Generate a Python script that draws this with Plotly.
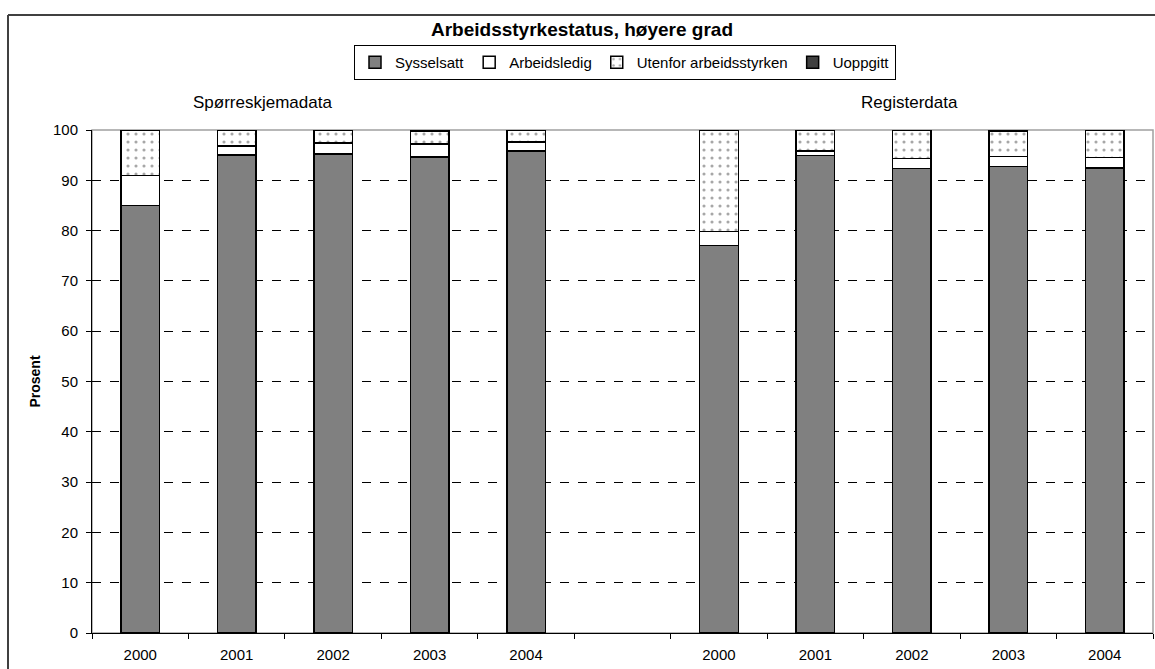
import plotly.graph_objects as go

# ---- data ----
years = ["2000", "2001", "2002", "2003", "2004"]
group_names = ["Spørreskjemadata", "Registerdata"]
series_names = ["Sysselsatt", "Arbeidsledig", "Utenfor arbeidsstyrken", "Uoppgitt"]

sysselsatt_spo = [85.0, 95.0, 95.2, 94.6, 95.8]
arbeidsledig_spo = [6.0, 1.8, 2.2, 2.6, 1.8]
utenfor_spo = [9.0, 3.2, 2.6, 2.5, 2.4]
uoppgitt_spo = [0.0, 0.0, 0.0, 0.3, 0.0]

sysselsatt_reg = [77.0, 94.9, 92.3, 92.7, 92.4]
arbeidsledig_reg = [2.8, 0.9, 2.0, 2.0, 2.1]
utenfor_reg = [20.2, 4.2, 5.7, 5.0, 5.5]
uoppgitt_reg = [0.0, 0.0, 0.0, 0.3, 0.0]

y_ticks = [0, 10, 20, 30, 40, 50, 60, 70, 80, 90, 100]

# ---- layout helpers ----
W, H = 1155, 669
x_left_px, x_right_px = 92, 1153
y_zero_px, y_top_px = 633, 130

# slot positions: 5 bars, one empty slot, 5 bars
x_pos = list(range(len(years))) + [len(years) + 1 + i for i in range(len(years))]
tick_text = years + years
n_slots = len(years) * 2 + 1

series_values = [
    sysselsatt_spo + sysselsatt_reg,
    arbeidsledig_spo + arbeidsledig_reg,
    utenfor_spo + utenfor_reg,
    uoppgitt_spo + uoppgitt_reg,
]

fig = go.Figure()
styles = [
    dict(color="#808080"),
    dict(color="#ffffff"),
    dict(color="#ffffff", pattern=dict(shape=".", fgcolor="#505050", bgcolor="#ffffff",
                                       size=8, solidity=0.12)),
    dict(color="#404040"),
]
for name, vals, st in zip(series_names, series_values, styles):
    marker = dict(line=dict(color="#000000", width=1.5), **st)
    fig.add_trace(go.Bar(x=x_pos, y=vals, name=name, marker=marker, width=0.4))

xdom = [x_left_px / W, x_right_px / W]
ydom = [(H - y_zero_px) / H, (H - y_top_px) / H]

font = "Liberation Sans, Arial, sans-serif"

fig.update_layout(
    width=W, height=H,
    margin=dict(l=0, r=0, t=0, b=0, autoexpand=False),
    paper_bgcolor="white", plot_bgcolor="white",
    barmode="stack",
    font=dict(family=font, size=15, color="#000000"),
    title=dict(text="<b>Arbeidsstyrkestatus, høyere grad</b>", x=582 / W, xanchor="center",
               y=1 - 29 / H, yanchor="middle", font=dict(size=19, family=font)),
    legend=dict(orientation="h", x=625 / W, xanchor="center", y=1 - 45 / H, yanchor="top",
                bordercolor="#000000", borderwidth=1, font=dict(size=15),
                itemwidth=30, tracegroupgap=0, traceorder="normal"),
    xaxis=dict(domain=xdom, range=[-0.5, n_slots - 0.5], tickmode="array",
               tickvals=x_pos, ticktext=tick_text, ticks="", showgrid=False,
               zeroline=False, showline=True, linecolor="#000000", linewidth=1,
               tickfont=dict(size=15), ticklabelstandoff=8, automargin=False,
               fixedrange=True),
    xaxis2=dict(domain=xdom, range=[-0.5, n_slots - 0.5], overlaying="x", anchor="y",
                side="bottom", tickmode="array",
                tickvals=[i - 0.5 for i in range(n_slots + 1)],
                showticklabels=False, ticks="outside", ticklen=5, tickcolor="#000000",
                showgrid=False, zeroline=False, showline=False, automargin=False),
    yaxis=dict(domain=ydom, range=[0, 100], tickmode="array", tickvals=y_ticks,
               ticks="outside", ticklen=5, tickcolor="#000000",
               showgrid=True, gridcolor="#000000", griddash="dash", gridwidth=1,
               zeroline=False, showline=True, linecolor="#000000", linewidth=1,
               tickfont=dict(size=15), ticklabelstandoff=5, automargin=False,
               title=dict(text="<b>Prosent</b>", font=dict(size=14), standoff=9)),
    bargap=0.6,
)

# invisible trace to activate xaxis2 ticks
fig.add_trace(go.Scatter(x=[x_pos[0]], y=[0], xaxis="x2", yaxis="y", mode="markers",
                         marker=dict(opacity=0), showlegend=False, hoverinfo="skip"))

# plot-area border (gray) and outer chart frame
fig.add_shape(type="rect", xref="x domain", yref="y domain", x0=0, x1=1, y0=0, y1=1,
              line=dict(color="#a0a0a0", width=1.5), layer="below")
fig.add_shape(type="line", xref="paper", yref="paper", x0=8 / W, x1=1.01, y0=1 - 15 / H,
              y1=1 - 15 / H, line=dict(color="#404040", width=2))
fig.add_shape(type="line", xref="paper", yref="paper", x0=8 / W, x1=8 / W, y0=-0.01,
              y1=1 - 15 / H, line=dict(color="#404040", width=2))

# group labels
group_centers = [1.27, 7.98]
for gname, gx in zip(group_names, group_centers):
    fig.add_annotation(text=gname, x=gx, xref="x", y=1 - 102 / H, yref="paper",
                       showarrow=False, font=dict(size=17, family=font),
                       xanchor="center", yanchor="middle")

fig.write_html("out.html", config={"displayModeBar": False},
               post_script="document.body.style.margin='0';document.body.style.overflow='hidden';")
